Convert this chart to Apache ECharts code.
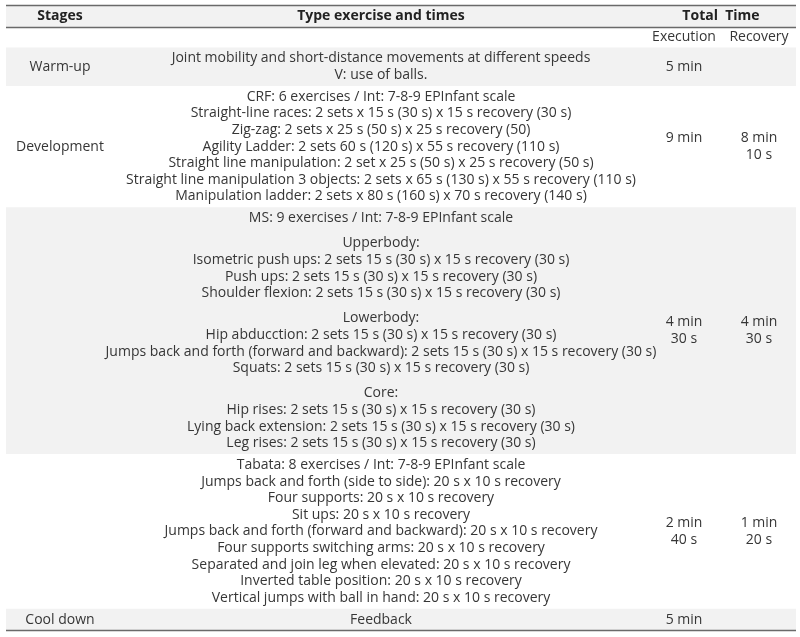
<!DOCTYPE html>
<html>
<head>
<meta charset="utf-8">
<script src="https://cdn.jsdelivr.net/npm/echarts@6/dist/echarts.min.js"></script>
<style>html,body{margin:0;padding:0;background:#fff}#chart{width:800px;height:637px}</style>
</head>
<body>
<div id="chart"></div>
<script>
// ---- Table content ----
const headers = ['Stages', 'Type exercise and times', 'Total  Time'];
const subHeaders = ['Execution', 'Recovery'];
const stages = ['Warm-up', 'Development', '', '', 'Cool down'];
const warmUp = [
  'Joint mobility and short-distance movements at different speeds',
  'V: use of balls.'
];
const development = [
  'CRF: 6 exercises / Int: 7-8-9 EPInfant scale',
  'Straight-line races: 2 sets x 15 s (30 s) x 15 s recovery (30 s)',
  'Zig-zag: 2 sets x 25 s (50 s) x 25 s recovery (50)',
  'Agility Ladder: 2 sets 60 s (120 s) x 55 s recovery (110 s)',
  'Straight line manipulation: 2 set x 25 s (50 s) x 25 s recovery (50 s)',
  'Straight line manipulation 3 objects: 2 sets x 65 s (130 s) x 55 s recovery (110 s)',
  'Manipulation ladder: 2 sets x 80 s (160 s) x 70 s recovery (140 s)'
];
const muscularStrength = [
  'MS: 9 exercises / Int: 7-8-9 EPInfant scale',
  '',
  'Upperbody:',
  'Isometric push ups: 2 sets 15 s (30 s) x 15 s recovery (30 s)',
  'Push ups: 2 sets 15 s (30 s) x 15 s recovery (30 s)',
  'Shoulder flexion: 2 sets 15 s (30 s) x 15 s recovery (30 s)',
  '',
  'Lowerbody:',
  'Hip abducction: 2 sets 15 s (30 s) x 15 s recovery (30 s)',
  'Jumps back and forth (forward and backward): 2 sets 15 s (30 s) x 15 s recovery (30 s)',
  'Squats: 2 sets 15 s (30 s) x 15 s recovery (30 s)',
  '',
  'Core:',
  'Hip rises: 2 sets 15 s (30 s) x 15 s recovery (30 s)',
  'Lying back extension: 2 sets 15 s (30 s) x 15 s recovery (30 s)',
  'Leg rises: 2 sets 15 s (30 s) x 15 s recovery (30 s)'
];
const tabata = [
  'Tabata: 8 exercises / Int: 7-8-9 EPInfant scale',
  'Jumps back and forth (side to side): 20 s x 10 s recovery',
  'Four supports: 20 s x 10 s recovery',
  'Sit ups: 20 s x 10 s recovery',
  'Jumps back and forth (forward and backward): 20 s x 10 s recovery',
  'Four supports switching arms: 20 s x 10 s recovery',
  'Separated and join leg when elevated: 20 s x 10 s recovery',
  'Inverted table position: 20 s x 10 s recovery',
  'Vertical jumps with ball in hand: 20 s x 10 s recovery'
];
const coolDown = ['Feedback'];
const exercises = [warmUp, development, muscularStrength, tabata, coolDown];
const execution = [['5 min'], ['9 min'], ['4 min', '30 s'], ['2 min', '40 s'], ['5 min']];
const recovery = [[], ['8 min', '10 s'], ['4 min', '30 s'], ['1 min', '20 s'], []];

// ---- Layout / style ----
const L = {
  left: 6, right: 796, top: 5.5, headerBottom: 27.5, subBottom: 47.5,
  lineH: 16.6, gapH: 8.6, pad: 5.2,
  colStage: 60, colText: 381, colExec: 684, colRec: 759, colTotal: 721,
  shade: '#f2f2f2', rule: '#6a6a6a', text: '#363636',
  font: '"Open Sans", "Noto Sans", sans-serif', size: 14
};

const chart = echarts.init(document.getElementById('chart'), null, {renderer: 'canvas'});
const g = [];
function txt(s, x, y, bold) {
  g.push({type: 'text', z: 10, style: {
    text: s, x: x, y: y, align: 'center', verticalAlign: 'middle',
    fontFamily: L.font, fontSize: L.size, fontWeight: bold ? 'bold' : 'normal',
    fill: bold ? '#222222' : L.text
  }});
}
function rect(y0, y1, color) {
  g.push({type: 'rect', z: 1, shape: {x: L.left, y: y0, width: L.right - L.left, height: y1 - y0},
    style: {fill: color}});
}
function rule(y, w) {
  g.push({type: 'line', z: 5, shape: {x1: L.left, y1: y, x2: L.right, y2: y},
    style: {stroke: L.rule, lineWidth: w}});
}

// header
rect(L.top, L.headerBottom, L.shade);
rule(L.top, 1.5);
rule(L.headerBottom, 1.5);
const hy = (L.top + L.headerBottom) / 2;
txt(headers[0], L.colStage, hy, true);
txt(headers[1], L.colText, hy, true);
txt(headers[2], L.colTotal, hy, true);
const sy = (L.headerBottom + L.subBottom) / 2;
txt(subHeaders[0], L.colExec, sy, false);
txt(subHeaders[1], L.colRec, sy, false);

// body rows
let y = L.subBottom;
exercises.forEach((lines, i) => {
  const hts = lines.map(s => s === '' ? L.gapH : L.lineH);
  const blockH = hts.reduce((a, b) => a + b, 0);
  const rowH = blockH + L.pad;
  if (i % 2 === 0) rect(y, y + rowH, L.shade);
  let cy = y + (rowH - blockH) / 2;
  lines.forEach((s, k) => {
    if (s !== '') txt(s, L.colText, cy + hts[k] / 2, false);
    cy += hts[k];
  });
  const mid = y + rowH / 2;
  if (stages[i]) txt(stages[i], L.colStage, mid, false);
  const n = Math.max(execution[i].length, recovery[i].length);
  const t0 = mid - (n * L.lineH) / 2 + L.lineH / 2;
  execution[i].forEach((s, k) => txt(s, L.colExec, t0 + k * L.lineH, false));
  recovery[i].forEach((s, k) => txt(s, L.colRec, t0 + k * L.lineH, false));
  y += rowH;
});
rule(y, 1.5);

chart.setOption({animation: false, graphic: {elements: g}});
</script>
</body>
</html>
